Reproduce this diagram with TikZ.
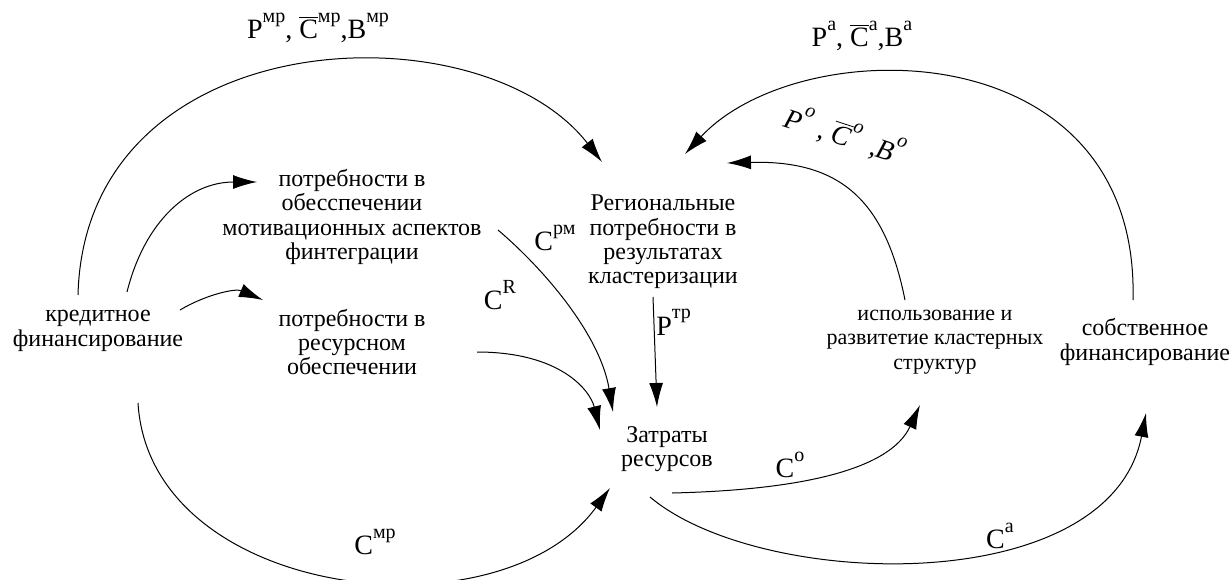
\documentclass[tikz,border=0pt]{standalone}
\usepackage{fontspec}
\setmainfont{Liberation Serif}
\usetikzlibrary{arrows.meta,calc}

\newcommand{\ix}[1]{\raisebox{0.6em}{\fontsize{10}{10}\selectfont #1}}
\newcommand{\cbar}[1]{$\overline{\mbox{#1}}$}

\begin{document}
\begin{tikzpicture}[x=0.5pt,y=-0.5pt,
	txt/.style={align=center,inner sep=0pt,font=\rmfamily\fontsize{12}{12.2}\selectfont},
	lbl/.style={inner sep=0pt,font=\rmfamily\fontsize{14}{14}\selectfont},
	arr/.style={-{Latex[length=12pt,width=7pt]},line width=0.5pt}]
		\useasboundingbox (0,0) rectangle (1232,579);
		
		% blocks
		\node[txt] (kred) at (98,331) {кредитное\\финансирование};
		\node[txt] (motiv) at (352,217) {потребности в\\обесспечении\\мотивационных аспектов\\финтеграции};
		\node[txt] (resurs) at (352,342) {потребности в\\ресурсном\\обеспечении};
		\node[txt] (region) at (663,242) {Региональные\\потребности в\\результатах\\кластеризации};
		\node[txt] (zatr) at (667,449) {Затраты\\ресурсов};
		\node[txt, font=\rmfamily\fontsize{11}{12.2}\selectfont] (ispol) at (935,342) {использование и\\развитетие кластерных\\структур};
		\node[txt] (sobstv) at (1145,342) {собственное\\финансирование};
		
		% left side
		\draw[arr] ($(kred)+(-20,-36)$) .. controls (85,20) and (480,5) .. ($(region)+(-61,-80)$);
		\draw[arr] ($(kred)+(29,-39)$) .. controls (145,220) and (190,182) .. ($(motiv)+(-95,-35)$);
		\draw[arr] ($(kred)+(82,-21)$) .. controls (205,295) and (235,288) .. ($(resurs)+(-89,-42)$);
		\draw[arr] ($(kred)+(40,72)$) .. controls (150,600) and (500,640) .. ($(zatr)+(-57,39)$);
		\draw[arr] ($(motiv)+(146,13)$) .. controls (545,270) and (600,335) .. ($(zatr)+(-54,-37)$);
		\draw[arr] ($(resurs)+(125,10)$) .. controls (560,352) and (590,390) .. ($(zatr)+(-67,-19)$);
		\draw[arr] ($(region)+(-10,55)$) -- ($(zatr)+(-10,-42)$);
		
		% right side
		\draw[arr] ($(zatr)+(5,44)$) .. controls (800,490) and (890,470) .. ($(ispol)+(-15,63)$);
		\draw[arr] ($(zatr)+(-17,48)$) .. controls (760,590) and (1110,600) .. ($(sobstv)+(1,71)$);
		\draw[arr] ($(ispol)+(-30,-42)$) .. controls (885,200) and (840,160) .. ($(region)+(64,-79)$);
		\draw[arr] ($(sobstv)+(-12,-42)$) .. controls (1140,30) and (800,30) .. ($(region)+(22,-88)$);
		
		% flow labels
		\node[lbl, rotate=-18] (lo) at (845,135) {\textit{P}\ix{\textit{o}}\hspace{4pt}, \cbar{\itshape C}\ix{\textit{o}}\hspace{6pt},\textit{B}\ix{\textit{o}}};
		\node[lbl] (lmp) at (318,28) {P\ix{мр}, \cbar{C}\ix{мр},B\ix{мр}};
		\node[lbl] (la) at (862,36) {P\ix{a}, \cbar{C}\ix{a},B\ix{a}};
		\node[lbl] (lrm) at (555,238) {C\ix{рм}};
		\node[lbl] (lr) at (500,295) {C\ix{R}};
		\node[lbl, anchor=west] (ltr) at (656,322) {P\ix{тр}};
		\node[lbl] (lo2) at (790,465) {C\ix{o}};
		\node[lbl] (la2) at (1000,536) {C\ix{a}};
		\node[lbl] (lmp2) at (375,542) {C\ix{мр}};
	\end{tikzpicture}
\end{document}
